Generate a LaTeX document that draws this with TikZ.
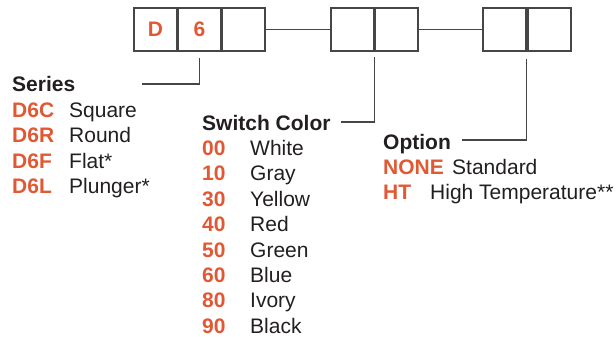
\documentclass[tikz,border=0pt]{standalone}
\usepackage{fontspec}
\setmainfont{Liberation Sans}
\definecolor{codeorange}{RGB}{224,88,52}
\definecolor{inkgray}{RGB}{35,31,32}
\definecolor{linegray}{RGB}{70,70,70}
\tikzset{
  cell/.style={draw=linegray,line width=1.3pt,minimum size=43pt,inner sep=0pt,
    text=codeorange,font=\fontsize{21}{24}\selectfont\bfseries},
  lead/.style={draw=linegray,line width=1.2pt},
  title/.style={anchor=base west,inner sep=0pt,text=inkgray,font=\fontsize{21}{24}\selectfont\bfseries},
  code/.style={anchor=base west,inner sep=0pt,text=codeorange,font=\fontsize{21}{24}\selectfont\bfseries},
  desc/.style={anchor=base west,inner sep=0pt,text=inkgray,font=\fontsize{21}{24}\selectfont}
}
\begin{document}
\begin{tikzpicture}[x=1pt,y=-1pt]
  \useasboundingbox (0,0) rectangle (616,337);
  % part number boxes
  \node[cell] (b1) at (155.5,29.5) {D};
  \node[cell] (b2) at (199.5,29.5) {6};
  \node[cell] (b3) at (243.5,29.5) {};
  \node[cell] (b4) at (352.5,29.5) {};
  \node[cell] (b5) at (396.5,29.5) {};
  \node[cell] (b6) at (504.5,29.5) {};
  \node[cell] (b7) at (549.5,29.5) {};
  \draw[lead] (b3.east) -- (b4.west);
  \draw[lead] (b5.east) -- (b6.west);

  % series
  \node[title] (series) at (12,92) {Series};
  \foreach \c/\t [count=\i] in {D6C/Square,D6R/Round,D6F/Flat*,D6L/Plunger*}{
    \node[code] (sc\i) at (12,{92+25.4*\i}) {\c};
    \node[desc] (sd\i) at (69,{92+25.4*\i}) {\t};
  }
  \coordinate (serieslead) at (142,84);
  \draw[lead] ([yshift=-6pt]b2.south) |- (serieslead);

  % switch color
  \node[title] (color) at (202,130) {Switch Color};
  \foreach \c/\t [count=\i] in {00/White,10/Gray,30/Yellow,40/Red,50/Green,60/Blue,80/Ivory,90/Black}{
    \node[code] (cc\i) at (202,{130+25.4*\i}) {\c};
    \node[desc] (cd\i) at (250,{130+25.4*\i}) {\t};
  }
  \coordinate (colorlead) at (341,122);
  \draw[lead] ([yshift=-5pt]b4.south east) |- (colorlead);

  % option
  \node[title] (option) at (383,149) {Option};
  \node[code] (oc1) at (383,174) {NONE};
  \node[desc] (od1) at (452,174) {Standard};
  \node[code] (oc2) at (383,199) {HT};
  \node[desc] (od2) at (430,199) {High Temperature**};
  \coordinate (optionlead) at (462,140);
  \draw[lead] ([yshift=-7pt]b6.south east) |- (optionlead);
\end{tikzpicture}
\end{document}
